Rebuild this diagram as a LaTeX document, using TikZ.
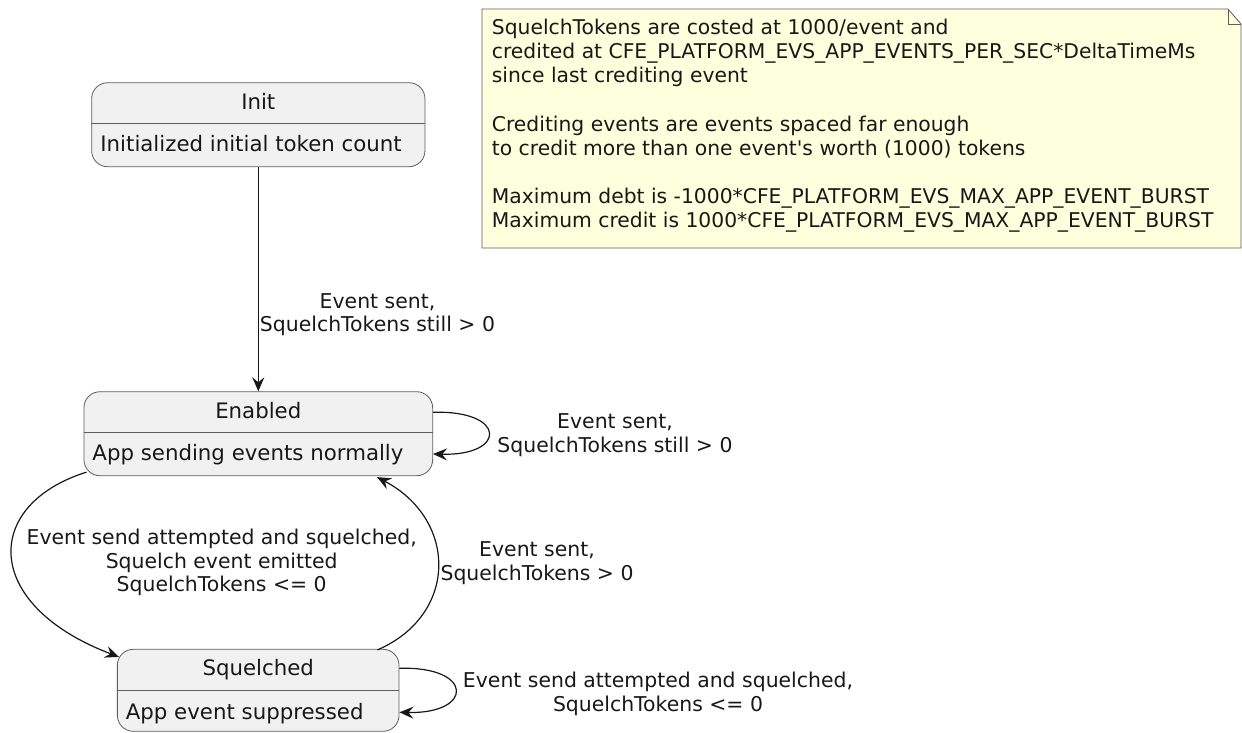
\documentclass[tikz,border=0pt]{standalone}
\usepackage{fontspec}
\setmainfont{DejaVu Sans}
\usetikzlibrary{arrows.meta,calc}
\definecolor{stfill}{HTML}{F1F1F1}
\definecolor{stline}{HTML}{181818}
\definecolor{notefill}{HTML}{FEFFDD}
\begin{document}
\begin{tikzpicture}[x=1pt,y=-1pt,
  statebox/.style={draw=stline!70, fill=stfill, line width=0.8pt, rounded corners=16pt, inner sep=0pt},
  sepline/.style={draw=stline!70, line width=0.8pt},
  sttitle/.style={inner sep=0pt, anchor=base, font=\fontsize{21.3}{25}\selectfont, text=stline},
  stdesc/.style={inner sep=0pt, anchor=base west, font=\fontsize{21.3}{25}\selectfont, text=stline},
  lbl/.style={inner sep=0pt, anchor=base, align=center, font=\fontsize{20.4}{23.5}\selectfont, text=stline},
  conn/.style={draw=stline, line width=1.2pt, -{Stealth[length=14pt,width=12pt,inset=5pt]}},
  notetext/.style={inner sep=0pt, anchor=base west, align=left, font=\fontsize{20.3}{23.6}\selectfont, text=stline},
  noteline/.style={draw=stline!70, line width=0.8pt}
]
\useasboundingbox (0,0) rectangle (1242,732);

% note
\path[noteline, fill=notefill] (482,9) -- (1228,9) -- (1241,24) -- (1241,248) -- (482,248) -- cycle;
\path[noteline] (1228,9) -- (1228,24) -- (1241,24);
\node[notetext] (notetxt) at (491.7,227.5) {SquelchTokens are costed at 1000/event and\\
credited at CFE\_PLATFORM\_EVS\_APP\_EVENTS\_PER\_SEC*DeltaTimeMs\\
since last crediting event\\[26pt]
Crediting events are events spaced far enough\\
to credit more than one event\textquotesingle s worth (1000) tokens\\[25pt]
Maximum debt is -1000*CFE\_PLATFORM\_EVS\_MAX\_APP\_EVENT\_BURST\\
Maximum credit is 1000*CFE\_PLATFORM\_EVS\_MAX\_APP\_EVENT\_BURST};

% states
\node[statebox, minimum width=333.3pt, minimum height=84pt] (init) at (258.3,124.7) {};
\draw[sepline] ($(init.north west)+(0,40.6)$) -- ($(init.north east)+(0,40.6)$);
\node[sttitle] (initT) at ($(init.north)+(0,27.3)$) {Init};
\node[stdesc] (initD) at ($(init.north west)+(9,69)$) {Initialized initial token count};

\node[statebox, minimum width=348.7pt, minimum height=84pt] (en) at (258.3,433.7) {};
\draw[sepline] ($(en.north west)+(0,40.6)$) -- ($(en.north east)+(0,40.6)$);
\node[sttitle] (enT) at ($(en.north)+(0,27.6)$) {Enabled};
\node[stdesc] (enD) at ($(en.north west)+(8.7,69.3)$) {App sending events normally};

\node[statebox, minimum width=281.7pt, minimum height=82pt] (sq) at (258.2,690.3) {};
\draw[sepline] ($(sq.north west)+(0,41.2)$) -- ($(sq.north east)+(0,41.2)$);
\node[sttitle] (sqT) at ($(sq.north)+(0,26.8)$) {Squelched};
\node[stdesc] (sqD) at ($(sq.north west)+(8.7,70.5)$) {App event suppressed};

% connectors
\draw[conn] (init.south) -- (en.north);
\draw[conn] ($(en.east)+(0,-21.4)$) .. controls (507,410) and (507,456) .. ($(en.east)+(0,20.3)$);
\draw[conn] ($(en.south west)+(3,-4)$) .. controls (-18,505) and (-18,605) .. ($(sq.north west)+(2,8)$);
\draw[conn] ($(sq.north east)+(-22,1)$) .. controls (458,615) and (458,520) .. ($(en.south east)+(-56,1)$);
\draw[conn] ($(sq.east)+(0,-22)$) .. controls (474,666) and (474,714) .. ($(sq.east)+(0,22)$);

% labels (anchor = baseline of last line)
\node[lbl] (l1) at (377.5,331.7) {Event sent,\\SquelchTokens still > 0};
\node[lbl] (l2) at (615,452.3) {Event sent,\\SquelchTokens still > 0};
\node[lbl] (l3) at (221.7,591.7) {Event send attempted and squelched,\\Squelch event emitted\\SquelchTokens <= 0};
\node[lbl] (l4) at (537,580) {Event sent,\\SquelchTokens > 0};
\node[lbl] (l5) at (658,711) {Event send attempted and squelched,\\SquelchTokens <= 0};
\end{tikzpicture}
\end{document}
